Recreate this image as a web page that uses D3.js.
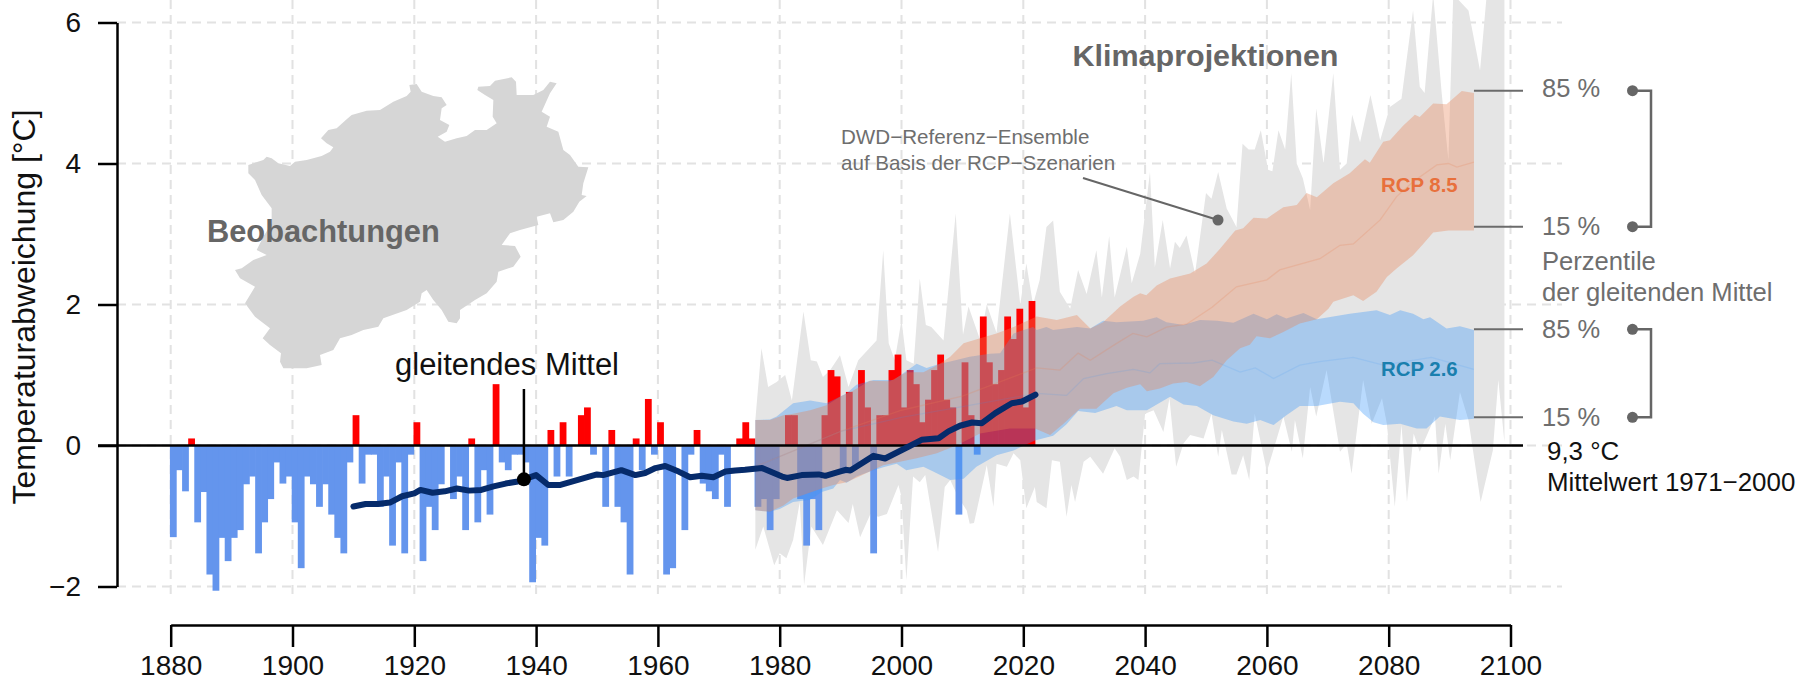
<!DOCTYPE html>
<html lang="de">
<head>
<meta charset="utf-8">
<title>Temperaturabweichung</title>
<script src="https://cdn.jsdelivr.net/npm/d3@7"></script>
<style>
  html, body { margin: 0; padding: 0; background: #fff; }
  svg { display: block; }
  text { font-family: "Liberation Sans", Arial, sans-serif; }
</style>
</head>
<body>
<div id="chart"></div>
<script>
// annual anomalies 1881-2022, deg C
const barValues = [
  -1.30, -0.35, -0.65, 0.10, -1.09, -0.66, -1.83, -2.06, -1.31, -1.64,
  -1.31, -1.20, -0.55, -0.44, -1.53, -1.09, -0.76, -0.24, -0.54, -0.44,
  -1.09, -1.74, -0.44, -0.55, -0.87, -0.55, -0.98, -1.31, -1.53, -0.24,
  0.43, -0.54, -0.13, -0.13, -0.87, -0.44, -1.42, -0.24, -1.53, -0.13,
  0.33, -1.64, -0.87, -1.20, -0.55, 0.00, -0.76, -0.44, -1.20, 0.10,
  -1.09, -0.35, -0.98, 0.87, -0.24, -0.35, -0.13, -0.13, -0.24, -1.94,
  -1.31, -1.42, 0.22, -0.44, 0.33, -0.44, 0.00, 0.43, 0.54, -0.13,
  0.00, -0.87, 0.22, -0.87, -1.09, -1.83, 0.10, -0.35, 0.66, -0.13,
  0.33, -1.83, -1.74, 0.00, -1.20, -0.13, 0.22, -0.54, -0.65, -0.76,
  -0.13, -0.87, 0.00, 0.10, 0.33, 0.10, -0.87, -0.76, -1.20, -0.76,
  0.00, 0.43, 0.43, -0.76, -1.42, -0.76, -1.20, 0.43, 1.07, 0.98,
  -0.40, 0.76, -0.32, 1.07, 0.54, -1.53, 0.43, 0.43, 1.07, 1.29,
  0.54, 1.07, 0.87, 0.33, 0.65, 1.07, 1.29, 0.65, 0.54, -0.98,
  1.18, 0.43, -0.13, 1.83, 1.18, 0.87, 1.07, 1.83, 1.51, 1.94,
  0.54, 2.05
];
const barYears = barValues.map((_, i) => 1881 + i);

// gleitendes Mittel
const maYears = [1910, 1912, 1914, 1916, 1918, 1920, 1921, 1923, 1925, 1927, 1929, 1931, 1933, 1935, 1937, 1938,
  1940, 1942, 1944, 1946, 1948, 1950, 1951, 1954, 1956.3, 1957.9, 1959.6, 1961.2, 1963.4, 1965.3, 1967.2, 1969.1,
  1971.1, 1972.7, 1974.3, 1977.1, 1980.4, 1981.2, 1983.6, 1986.4, 1987.5, 1990.8, 1991.6, 1995.4, 1997.3, 1999,
  2001.2, 2003.3, 2006.1, 2007.7, 2009.6, 2011.6, 2013.2, 2015.4, 2018.1, 2019.8, 2022];
const maValues = [-0.865, -0.83, -0.83, -0.81, -0.72, -0.68, -0.63, -0.67, -0.65, -0.61, -0.64, -0.63, -0.58, -0.54, -0.51, -0.48,
  -0.42, -0.56, -0.56, -0.51, -0.46, -0.41, -0.42, -0.35, -0.42, -0.39, -0.32, -0.29, -0.37, -0.45, -0.43, -0.45,
  -0.37, -0.355, -0.345, -0.32, -0.44, -0.46, -0.42, -0.41, -0.43, -0.345, -0.355, -0.147, -0.185, -0.11,
  -0.015, 0.08, 0.104, 0.2, 0.28, 0.326, 0.317, 0.46, 0.6, 0.624, 0.72];

// grey ensemble envelope
const greyUpYears = [1976, 1977, 1978.1, 1979.5, 1980.9, 1982, 1983.9, 1985.1, 1986.1, 1987.1, 1988.3, 1989.9, 1991.3, 1992.9, 1995.9, 1997,
  1997.9, 1998.9, 2000, 2000.8, 2002, 2003, 2004, 2004.9, 2006.9, 2008.9, 2010.1, 2011, 2012.9, 2014, 2015.6, 2017.8, 2019.5, 2020.5, 2021.6, 2022.7,
  2023.8, 2024.9, 2026, 2027.7, 2029, 2030.4, 2032, 2032.9, 2034.1, 2035, 2037, 2037.8, 2039.2, 2040.8, 2041.6, 2042.9, 2044.1, 2044.9, 2045.7, 2046.8,
  2048.2, 2050, 2050.9, 2052, 2053.4, 2055, 2056, 2057, 2058, 2059, 2060.2, 2060.9, 2061.9, 2063, 2064, 2064.9, 2065.9, 2067.1, 2068.1, 2069.3, 2070.9,
  2072, 2073.1, 2074, 2075.3, 2077, 2078.6, 2080.2, 2082.1, 2084, 2085.1, 2085.9, 2087.3, 2088.7, 2089.8, 2090.6, 2093.1, 2095, 2096.1, 2099];
const greyUp = [0.36, 1.38, 0.83, 0.90, 1.0, 0.64, 1.9, 1.21, 1.19, 0.97, 1.07, 1.28, 0.83, 1.21, 1.49, 2.77,
  1.45, 1.21, 1.78, 1.21, 1.16, 2.37, 1.71, 1.68, 1.49, 3.29, 1.57, 1.97, 1.5, 2.0, 1.6, 3.29, 2.0, 2.58, 2.0, 2.35,
  3.1, 3.19, 2.18, 1.94, 2.49, 2.15, 2.77, 2.1, 2.97, 2.1, 2.82, 2.3, 2.72, 3.88, 2.53, 3.2, 2.51, 2.89, 2.8, 2.98,
  2.44, 3.58, 3.5, 3.88, 3.36, 3.1, 4.28, 4.2, 4.2, 4.47, 3.91, 3.89, 4.47, 4.2, 5.28, 4.0, 3.79, 3.34, 4.78, 4.0, 5.28,
  3.91, 4.0, 4.69, 4.3, 4.97, 4.33, 4.8, 4.92, 6.17, 5.09, 5.0, 6.4, 5.0, 4.05, 6.4, 6.17, 5.32, 6.4, 6.4];
const greyLowYears = [1976, 1977.3, 1979.1, 1980, 1981.1, 1982.2, 1983.3, 1984, 1985.2, 1987.1, 1989.4, 1991.3, 1992, 1993.2, 1994.9, 1996.2, 1997.6,
  1999.5, 2000, 2000.8, 2001.9, 2003, 2003.9, 2006, 2007.1, 2008, 2009.3, 2010.7, 2011.2, 2011.9, 2014, 2015.1, 2015.6, 2017.3, 2018.4, 2019.5, 2020.5,
  2021.9, 2022.2, 2023.8, 2024.7, 2026, 2027.1, 2027.9, 2028.5, 2029.9, 2031, 2033.1, 2035, 2035.9, 2037, 2038.1, 2038.9, 2040, 2041.4, 2043, 2044, 2045.1,
  2046.3, 2047.4, 2049.6, 2050.9, 2052, 2052.6, 2054.2, 2055, 2056.1, 2057.1, 2058, 2060, 2062.7, 2064.1, 2064.6, 2065.9, 2067.1, 2068.1, 2069.8, 2072,
  2073.1, 2073.9, 2075.8, 2077.2, 2078.9, 2079.7, 2081, 2082.1, 2083, 2084.1, 2085.1, 2087.6, 2088.2, 2089.3, 2090.1, 2091.7, 2093.1, 2095.1, 2097.1, 2098, 2099];
const greyLow = [-1.48, -1.15, -1.7, -1.53, -1.6, -1.34, -0.8, -1.98, -1.15, -1.41, -0.92, -1.1, -0.83, -1.3, -0.97, -1.01, -0.97,
  -0.56, -0.73, -1.91, -0.44, -0.52, -0.42, -1.51, -0.59, -0.49, -0.73, -0.92, -1.11, -1.1, -0.28, -0.87, -0.26, -0.3, -0.11, -0.21, -0.89,
  -0.59, -0.8, -0.89, -0.21, -0.23, -1.01, -0.56, -0.8, -0.23, -0.16, -0.4, -0.04, -0.16, -0.49, -0.44, -0.49, 0.45, 0.5, 0.19, 0.67, -0.3,
  0.03, 0.15, 0.1, 0.45, -0.16, 0.22, -0.41, -0.41, -0.14, -0.49, 0.45, -0.37, 0.41, -0.09, 0.36, -0.18, 0.83, 0.41, 1.07, -0.09,
  0.03, -0.4, 0.93, 0.31, 0.67, 0.31, -0.87, 0.29, -0.8, 0.17, -0.09, 0.41, -0.4, 0.31, -0.21, 0.76, 0.36, -0.8, -0.07, 0.93, 0.05];

// RCP 2.6 percentiles
const rcp26UpYears = [1976, 1978.4, 1979.5, 1982.2, 1985, 1987.7, 1991, 1992.6, 1995.4, 1998.7, 2002.5, 2004.1, 2006.3, 2008, 2011.2, 2014.5, 2016.2, 2018.4, 2021.6,
  2022.2, 2023.8, 2024.9, 2028.8, 2031, 2033.1, 2035.3, 2039.7, 2041.9, 2043.5, 2046.3, 2049, 2051.8, 2054.5, 2057.8, 2060, 2061.6, 2063.2, 2066, 2068.2,
  2070.9, 2073.6, 2078, 2080.2, 2081.9, 2084, 2085.7, 2086.8, 2089.5, 2091.7, 2094];
const rcp26Up = [0.36, 0.37, 0.41, 0.6, 0.64, 0.6, 0.74, 0.86, 0.93, 0.93, 1.16, 1.1, 1.16, 1.19, 1.26, 1.3, 1.31, 1.59, 1.68,
  1.64, 1.68, 1.64, 1.68, 1.66, 1.77, 1.75, 1.77, 1.82, 1.75, 1.71, 1.78, 1.77, 1.74, 1.87, 1.79, 1.86, 1.8, 1.88, 1.79,
  1.83, 1.87, 1.92, 1.85, 1.92, 1.87, 1.79, 1.82, 1.66, 1.69, 1.64];
const rcp26LowYears = [1976, 1978.4, 1980, 1982.2, 1985, 1986.9, 1988.8, 1989.9, 1991, 1992.6, 1994.8, 1997, 1999.2, 2000.8, 2003.6, 2005.2, 2008, 2010.2, 2012.3, 2015.6, 2018.4, 2021.9,
  2024.9, 2027.1, 2029, 2031.8, 2035.3, 2037, 2040.3, 2044.1, 2046.3, 2048.5, 2051.2, 2054.5, 2056.7, 2058.9, 2061.1, 2063.2, 2065.4, 2068.2, 2072, 2074.2, 2075.8, 2077.5, 2079.1,
  2081.9, 2084.6, 2086.2, 2088.4, 2091.7, 2094];
const rcp26Low = [-0.92, -0.94, -0.9, -0.8, -0.77, -0.66, -0.61, -0.49, -0.53, -0.44, -0.37, -0.31, -0.26, -0.35, -0.3, -0.37, -0.49, -0.47, -0.3, -0.14, -0.07, 0.07,
  0.14, 0.3, 0.49, 0.46, 0.56, 0.5, 0.5, 0.69, 0.58, 0.56, 0.43, 0.34, 0.31, 0.36, 0.29, 0.43, 0.56, 0.56, 0.62, 0.6, 0.45, 0.33, 0.29,
  0.31, 0.24, 0.24, 0.41, 0.36, 0.38];
const rcp26MedYears = [1976, 1990, 2000, 2010, 2022.2, 2027.1, 2029.9, 2033.7, 2038.1, 2040.8, 2042.4, 2047.9, 2051, 2055.6, 2058.1, 2061.1, 2065.4, 2068.7, 2074.2, 2079.1, 2087, 2094];
const rcp26Med = [-0.3, 0.2, 0.4, 0.55, 0.74, 0.71, 0.95, 1.02, 1.08, 1.03, 1.16, 1.17, 1.21, 1.04, 1.1, 0.95, 1.14, 1.19, 1.25, 1.14, 1.25, 1.08];

// RCP 8.5 percentiles
const rcp85UpYears = [1976, 1978.4, 1980.6, 1982.2, 1985, 1987.7, 1989.9, 1992.1, 1994.8, 1998.1, 2000.8, 2003.6, 2006.3, 2008, 2010.2, 2012.9, 2015.6, 2018.4, 2022.2,
  2025.5, 2028.8, 2031, 2033.1, 2035.9, 2038.1, 2039.2, 2040.2, 2041.9, 2044.1, 2047.4, 2050.1, 2052.3, 2054.8, 2056.1, 2057.8, 2060, 2062.7, 2064.9, 2066.5, 2068.2,
  2070.9, 2073.6, 2076.1, 2076.9, 2079.1, 2080.2, 2082.4, 2084.3, 2085.1, 2087.3, 2089.5, 2092, 2094];
const rcp85Up = [0.36, 0.36, 0.43, 0.45, 0.5, 0.57, 0.69, 0.78, 0.92, 0.91, 1.04, 1.04, 1.16, 1.26, 1.45, 1.52, 1.59, 1.68, 1.83,
  1.78, 1.85, 1.66, 1.75, 1.97, 2.11, 2.16, 2.13, 2.27, 2.37, 2.44, 2.58, 2.79, 3.05, 3.08, 3.23, 3.22, 3.38, 3.41, 3.58, 3.52,
  3.72, 3.86, 4.06, 4.01, 4.31, 4.33, 4.54, 4.69, 4.66, 4.85, 4.84, 5.03, 5.0];
const rcp85LowYears = [1976, 1978.4, 1980.6, 1982.2, 1986.9, 1988.8, 1991, 1994.8, 1997, 2002.5, 2005.8, 2009, 2012.9, 2017.8, 2021.9, 2024.4, 2026.6, 2029.3, 2032, 2034.8, 2037,
  2039.2, 2040.3, 2042.4, 2044.6, 2046.8, 2049, 2051.2, 2053.4, 2055.6, 2057.2, 2058.3, 2060.5, 2062.7, 2065.4, 2068.2, 2070.1, 2070.9, 2074.2, 2075.8, 2078, 2079.7,
  2081.3, 2084, 2085.7, 2087.3, 2089.8, 2094];
const rcp85Low = [-0.92, -0.94, -0.85, -0.75, -0.61, -0.56, -0.52, -0.37, -0.28, -0.18, -0.11, 0, 0.17, 0.24, 0.24, 0.15, 0.31, 0.52, 0.52, 0.74, 0.82,
  0.87, 0.77, 0.81, 0.88, 0.9, 0.84, 0.97, 1.21, 1.38, 1.43, 1.55, 1.52, 1.61, 1.73, 1.79, 1.94, 2.04, 2.13, 2.05, 2.18, 2.39,
  2.51, 2.7, 2.86, 3.02, 3.05, 3.05];
const rcp85MedYears = [1976, 1990, 2000, 2010, 2022.2, 2026, 2029, 2031, 2034.8, 2038, 2040.3, 2043.5, 2046.8, 2051, 2055, 2060, 2062.1, 2068.7, 2072, 2074.2, 2078.6, 2081.3, 2084, 2087.9, 2089.8, 2091.2, 2094];
const rcp85Med = [-0.3, 0.2, 0.5, 0.7, 1.1, 1.07, 1.31, 1.21, 1.42, 1.59, 1.54, 1.68, 1.72, 1.96, 2.25, 2.35, 2.49, 2.65, 2.84, 2.86, 3.2, 3.53, 3.74, 3.98, 4.0, 3.95, 4.02];

const yTicks = [-2, 0, 2, 4, 6];
const xTicks = d3.range(1880, 2101, 20);

// NRW outline, in units of a 1200 x 960 sketch box
const mapXs = [85,130,140,155,175,210,225,260,305,330,340,320,303,325,350,380,395,440,480,520,560,572,568,590,605,640,665,680,665,660,688,680,653,675,710,740,765,800,830,818,820,795,772,775,810,825,875,888,890,940,970,990,1010,990,965,990,980,1015,1030,1050,1075,1105,1090,1085,1100,1078,1060,1030,1000,990,950,955,900,870,845,885,902,880,835,830,800,765,720,720,710,685,665,640,620,605,600,560,490,475,430,395,360,340,300,305,260,215,190,180,183,150,128,150,105,75,105,60,45,65,100,140,110,130,155,155,125,105,85];
const mapYs = [315,300,290,295,310,318,305,300,288,275,262,250,235,210,205,178,165,152,150,125,108,95,75,72,95,108,112,135,145,180,195,215,230,245,235,228,210,210,190,170,120,105,90,80,78,62,52,65,105,105,90,65,70,100,155,170,200,215,270,285,320,322,370,405,408,425,455,480,487,460,470,495,510,520,555,558,590,620,635,665,700,720,750,775,790,785,750,720,690,700,725,750,775,800,810,825,835,870,885,915,925,925,925,905,880,855,835,805,770,730,680,655,630,625,600,585,570,530,490,445,405,360,340];

const width = 1808;
const height = 681;

const x = d3.scaleLinear().domain([1880, 2100]).range([170.7, 1510.5]);
const y = d3.scaleLinear().domain([-2, 6]).range([586.5, 22.5]);
const barW = x(1) - x(0);

const svg = d3.select('#chart').append('svg')
  .attr('width', width)
  .attr('height', height);

// grid
const grid = svg.append('g')
  .attr('stroke', '#e2e2e2')
  .attr('stroke-width', 2)
  .attr('stroke-dasharray', '9,6');

grid.selectAll('line.v')
  .data(xTicks)
  .join('line')
    .attr('class', 'v')
    .attr('x1', d => x(d))
    .attr('x2', d => x(d))
    .attr('y1', 0)
    .attr('y2', 600);

grid.selectAll('line.h')
  .data(yTicks)
  .join('line')
    .attr('class', 'h')
    .attr('x1', 117)
    .attr('x2', 1562)
    .attr('y1', d => y(d))
    .attr('y2', d => y(d));

const pts = (years, vals) => years.map((d, i) => [d, vals[i]]);
const line = d3.line().x(d => x(d[0])).y(d => y(d[1]));

// polygon: upper edge left to right, lower edge back
const bandPath = (upY, up, lowY, low) =>
  line(pts(upY, up).concat(pts(lowY, low).reverse())) + 'Z';

svg.append('path')
  .attr('d', bandPath(greyUpYears, greyUp, greyLowYears, greyLow))
  .attr('fill', '#e5e5e5');

// map
const mapXScale = d3.scaleLinear().domain([0, 1200]).range([220, 620]);
const mapYScale = d3.scaleLinear().domain([0, 960]).range([60, 380]);
svg.append('path')
  .attr('d', d3.line().x(d => mapXScale(d[0])).y(d => mapYScale(d[1]))(pts(mapXs, mapYs)) + 'Z')
  .attr('fill', '#d6d6d6');

// bars, slightly over wide so neighbours close up
svg.append('g')
  .selectAll('rect')
  .data(barYears)
  .join('rect')
    .attr('x', d => x(d - 1.13))
    .attr('width', barW + 0.7)
    .attr('y', (d, i) => y(Math.max(0, barValues[i])))
    .attr('height', (d, i) => Math.abs(y(barValues[i]) - y(0)))
    .attr('fill', (d, i) => barValues[i] >= 0 ? '#ff0000' : '#6495ed');

// RCP bands
svg.append('path')
  .attr('d', bandPath(rcp26UpYears, rcp26Up, rcp26LowYears, rcp26Low))
  .attr('fill', '#3795f9')
  .attr('fill-opacity', 0.35);

svg.append('path')
  .attr('d', bandPath(rcp85UpYears, rcp85Up, rcp85LowYears, rcp85Low))
  .attr('fill', '#e88153')
  .attr('fill-opacity', 0.35);

svg.append('path')
  .attr('d', line(pts(rcp26MedYears, rcp26Med)))
  .attr('fill', 'none')
  .attr('stroke', '#3795f9')
  .attr('stroke-opacity', 0.14)
  .attr('stroke-width', 1.3);

svg.append('path')
  .attr('d', line(pts(rcp85MedYears, rcp85Med)))
  .attr('fill', 'none')
  .attr('stroke', '#e88153')
  .attr('stroke-opacity', 0.22)
  .attr('stroke-width', 1.3);

// zero line
svg.append('line')
  .attr('x1', 98)
  .attr('x2', 1523)
  .attr('y1', y(0))
  .attr('y2', y(0))
  .attr('stroke', '#000')
  .attr('stroke-width', 2.5);

// moving average
svg.append('path')
  .attr('d', line(pts(maYears, maValues)))
  .attr('fill', 'none')
  .attr('stroke', '#062b6b')
  .attr('stroke-width', 6)
  .attr('stroke-linecap', 'round')
  .attr('stroke-linejoin', 'round');

svg.append('line')
  .attr('x1', x(1938))
  .attr('x2', x(1938))
  .attr('y1', 389)
  .attr('y2', y(-0.48))
  .attr('stroke', '#000')
  .attr('stroke-width', 2.5);

svg.append('circle')
  .attr('cx', x(1938))
  .attr('cy', y(-0.48))
  .attr('r', 7)
  .attr('fill', '#000');

// axes
const yAxis = d3.axisLeft(y).tickValues(yTicks).tickSize(19).tickSizeOuter(0).tickPadding(17);
const xAxis = d3.axisBottom(x).tickValues(xTicks).tickSize(22).tickSizeOuter(0).tickFormat(d3.format('d')).tickPadding(8);

const styleAxis = g => g
  .call(g => g.selectAll('.domain, .tick line').attr('stroke', '#000').attr('stroke-width', 2.5))
  .call(g => g.selectAll('text')
    .attr('font-family', '"Liberation Sans", Arial, sans-serif')
    .attr('font-size', 28)
    .attr('fill', '#111'));

svg.append('g').attr('transform', 'translate(117,0)').call(yAxis).call(styleAxis);
svg.append('g').attr('transform', 'translate(0,625)').call(xAxis).call(styleAxis);

svg.append('text')
  .attr('transform', 'translate(35,307) rotate(-90)')
  .attr('text-anchor', 'middle')
  .attr('font-size', 32)
  .attr('fill', '#111')
  .text('Temperaturabweichung [°C]');

// labels
const labels = [
  {t: 'Beobachtungen', x: 207, y: 241.5, s: 30.8, c: '#666', w: 'bold'},
  {t: 'Klimaprojektionen', x: 1072.5, y: 66, s: 29, c: '#666', w: 'bold', len: 266},
  {t: 'gleitendes Mittel', x: 395, y: 375, s: 31, c: '#111'},
  {t: 'DWD\u2212Referenz\u2212Ensemble', x: 841, y: 144, s: 20.6, c: '#6e6e6e'},
  {t: 'auf Basis der RCP\u2212Szenarien', x: 841, y: 170, s: 20.6, c: '#6e6e6e'},
  {t: 'RCP 8.5', x: 1381, y: 192, s: 20.4, c: '#e8703c', w: 'bold'},
  {t: 'RCP 2.6', x: 1381, y: 376, s: 20.4, c: '#1a7fae', w: 'bold'},
  {t: '85 %', x: 1542, y: 97, s: 25.5, c: '#6e6e6e'},
  {t: '15 %', x: 1542, y: 235, s: 25.5, c: '#6e6e6e'},
  {t: 'Perzentile', x: 1542, y: 270, s: 25.6, c: '#6e6e6e'},
  {t: 'der gleitenden Mittel', x: 1542, y: 301, s: 25.6, c: '#6e6e6e'},
  {t: '85 %', x: 1542, y: 338, s: 25.5, c: '#6e6e6e'},
  {t: '15 %', x: 1542, y: 426, s: 25.5, c: '#6e6e6e'},
  {t: '9,3 °C', x: 1547, y: 460, s: 25.9, c: '#111'},
  {t: 'Mittelwert 1971\u22122000', x: 1547, y: 491, s: 25.9, c: '#111'}
];

svg.append('g')
  .selectAll('text')
  .data(labels)
  .join('text')
    .attr('x', d => d.x)
    .attr('y', d => d.y)
    .attr('font-size', d => d.s)
    .attr('font-weight', d => d.w || 'normal')
    .attr('fill', d => d.c)
    .attr('textLength', d => d.len || null)
    .attr('lengthAdjust', d => d.len ? 'spacingAndGlyphs' : null)
    .text(d => d.t);

// leader to the ensemble
const gray = '#666';
svg.append('line')
  .attr('x1', 1083).attr('y1', 178)
  .attr('x2', 1218).attr('y2', 220)
  .attr('stroke', gray)
  .attr('stroke-width', 2);
svg.append('circle')
  .attr('cx', 1218).attr('cy', 220).attr('r', 5.5)
  .attr('fill', gray);

// percentile ticks and brackets
const pctRows = [[90.7, 226.7], [329.3, 417.3]];
pctRows.forEach(([top, bottom]) => {
  [top, bottom].forEach(yy => {
    svg.append('line')
      .attr('x1', x(2094)).attr('x2', 1523)
      .attr('y1', yy).attr('y2', yy)
      .attr('stroke', '#6b6b6b').attr('stroke-width', 2);
    svg.append('circle')
      .attr('cx', 1632.5).attr('cy', yy).attr('r', 5.5)
      .attr('fill', gray);
  });
  svg.append('path')
    .attr('d', d3.line()([[1632.5, top], [1651, top], [1651, bottom], [1632.5, bottom]]))
    .attr('fill', 'none')
    .attr('stroke', gray)
    .attr('stroke-width', 2.5);
});
</script>
</body>
</html>
